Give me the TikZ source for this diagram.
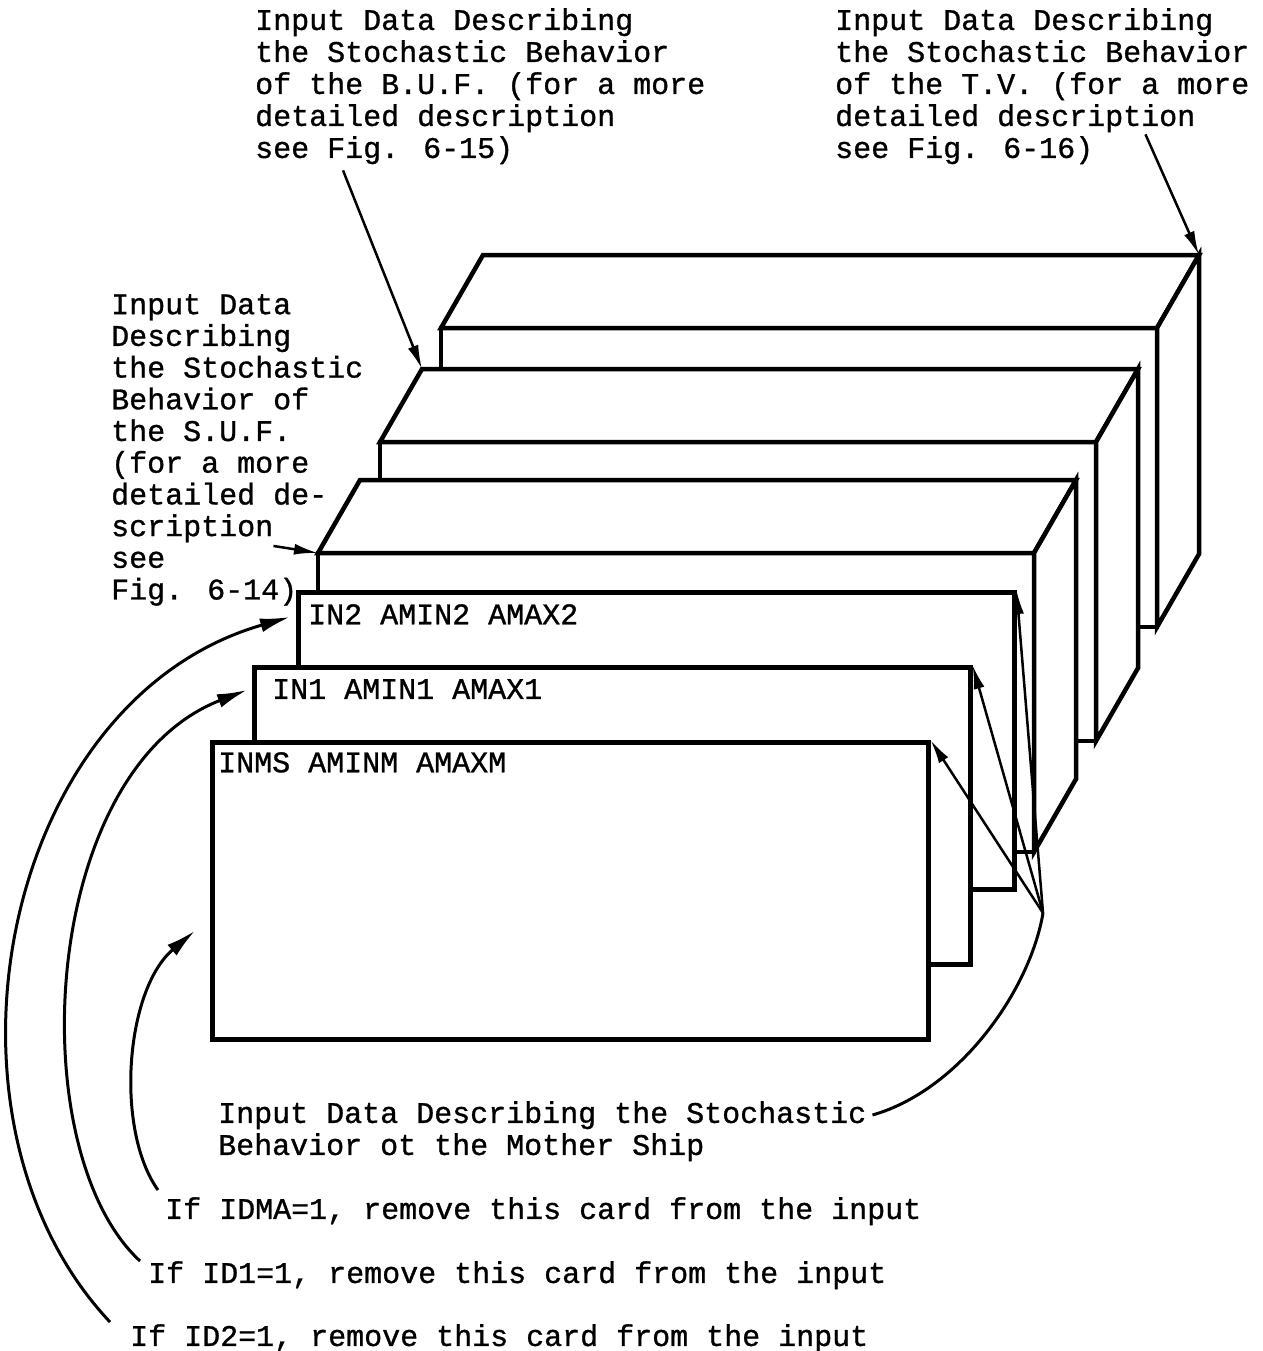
\documentclass[tikz,border=0pt]{standalone}
\usepackage{fontspec}
\usetikzlibrary{arrows.meta}
\newfontfamily\typer{Liberation Mono}[FakeBold=1]

\begin{document}
\begin{tikzpicture}[x=1pt,y=-1pt,
    >={Latex[length=24pt,width=11pt]},
    edge/.style={line width=4.5pt, fill=white, line join=miter},
    card/.style={draw, line width=4.5pt, fill=white, inner sep=0pt, minimum width=716pt, minimum height=297pt, anchor=north west},
    txt/.style={font=\typer\fontsize{30}{32}\selectfont, inner sep=0pt, anchor=north west, align=left},
    pointer/.style={->, line width=2.5pt},
    curvearrow/.style={->, line width=3pt, >={Latex[length=30pt,width=14pt]}}]
    \useasboundingbox (0,0) rectangle (1262,1351);
    % Boxes, back to front
    \foreach \n/\x/\y in {tv/441/328, buf/380/442, suf/318/553} {
        \filldraw[edge] (\x,\y) rectangle ++(716,299);
        \filldraw[edge] (\x,\y) -- ++(42,-73) -- ++(716,0) -- ++(-42,73) -- cycle;
        \filldraw[edge] (\x+716,\y) -- ++(42,-73) -- ++(0,299) -- ++(-42,73) -- cycle;
        \coordinate (\n-front) at (\x,\y);
        \coordinate (\n-back) at (\x+42,\y-73);
        \coordinate (\n-corner) at (\x+758,\y-73);
    }
    % Cards
    \node[card] (in2) at (296,590) {};
    \node[card] (in1) at (252,665) {};
    \node[card] (inms) at (210,740) {};
    \node[txt] (in2txt) at (308,604) {IN2 AMIN2 AMAX2};
    \node[txt] (in1txt) at (272,679) {IN1 AMIN1 AMAX1};
    \node[txt] (inmstxt) at (218,752) {INMS AMINM AMAXM};
    % Labels
    \node[txt] (buflbl) at (255,8) {Input Data Describing\\the Stochastic Behavior\\of the B.U.F. (for a more\\detailed description\\see Fig. 6-15)};
    \node[txt] (tvlbl) at (835,8) {Input Data Describing\\the Stochastic Behavior\\of the T.V. (for a more\\detailed description\\see Fig. 6-16)};
    \node[txt, font=\typer\fontsize{30}{31.7}\selectfont] (suflbl) at (111,294) {Input Data\\Describing\\the Stochastic\\Behavior of\\the S.U.F.\\(for a more\\detailed de-\\scription\\see\\Fig. 6-14)};
    \node[txt] (mslbl) at (218,1101) {Input Data Describing the Stochastic\\Behavior ot the Mother Ship};
    \node[txt] (idma) at (165,1197) {If IDMA=1, remove this card from the input};
    \node[txt] (idone) at (148,1261) {If ID1=1, remove this card from the input};
    \node[txt] (idtwo) at (130,1324) {If ID2=1, remove this card from the input};
    % Pointers to the boxes
    \draw[pointer] ([xshift=88pt,yshift=-6pt]buflbl.south west) -- (buf-back);
    \draw[pointer] ([xshift=-104pt,yshift=30pt]tvlbl.south east) -- (tv-corner);
    \draw[pointer] ([xshift=-90pt,yshift=-96pt]suflbl.east) -- (suf-front);
    % Remove-card arrows
    \draw[curvearrow] ([xshift=-20pt,yshift=2pt]idtwo.north west) .. controls (-80,1120) and (0,700) .. ([xshift=-6pt,yshift=-27pt]in2.north west);
    \draw[curvearrow] ([xshift=-8pt]idone.north west) .. controls (20,1150) and (40,770) .. ([xshift=-5pt,yshift=-25pt]in1.north west);
    \draw[curvearrow] ([xshift=-7pt,yshift=7pt]idma.north west) .. controls (115,1130) and (125,990) .. ([xshift=-15pt,yshift=-40pt]inms.west);
    % Mother ship
    \coordinate (ms) at (1043,913);
    \draw[line width=3pt] ([xshift=6pt,yshift=-14pt]mslbl.north east) .. controls (960,1090) and (1030,990) .. (ms);
    \foreach \c in {inms,in1,in2} \draw[pointer] (ms) -- (\c.north east);
\end{tikzpicture}
\end{document}
